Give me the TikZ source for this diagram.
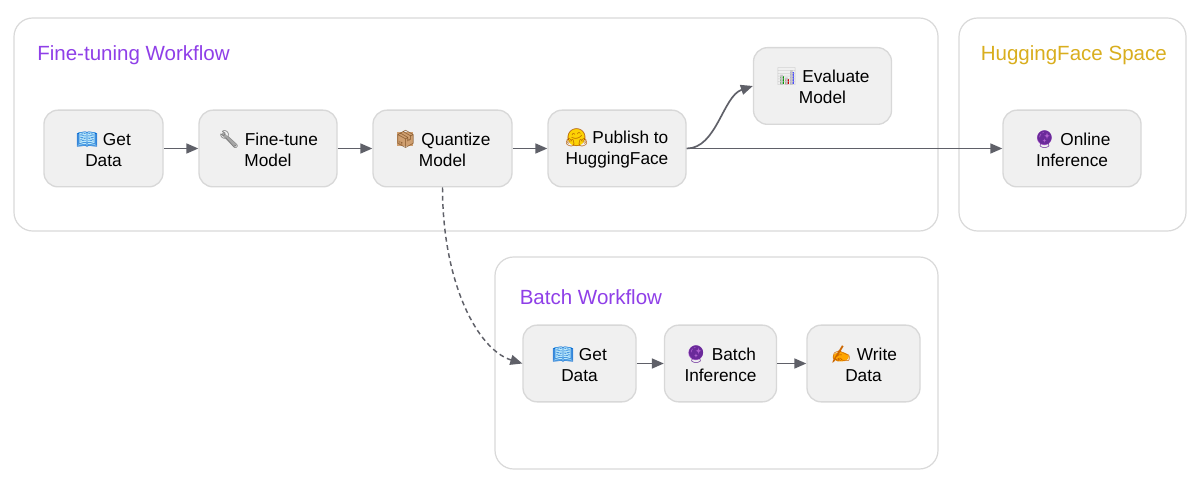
\documentclass[tikz,border=0pt]{standalone}
\usepackage{fontspec}
\setmainfont{Liberation Sans}
\newfontfamily\emofont{Noto Emoji}
\usetikzlibrary{arrows.meta}
\definecolor{boxfill}{HTML}{F0F0F0}
\definecolor{boxline}{HTML}{D8D8D8}
\definecolor{groupline}{HTML}{D9D9D9}
\definecolor{edgecol}{HTML}{5F6068}
\definecolor{purpletitle}{HTML}{8F3FE8}
\definecolor{goldtitle}{HTML}{D9AE1E}
\definecolor{ballglyph}{HTML}{6A2A9A}
\definecolor{ballfill}{HTML}{B060D0}
% #1 glyph colour, #2 glyph, #3 coloured underlay drawn beneath the glyph
\newcommand{\emj}[3]{\rule{0pt}{10.9pt}\smash{\tikz[overlay,x=1pt,y=1pt,sharp corners]{#3}{\color{#1}\emofont\fontsize{13pt}{14pt}\selectfont #2}}}
\tikzset{
  flowbox/.style={draw=boxline,fill=boxfill,line width=1pt,rounded corners=10.5pt,
    minimum height=57.5pt,inner sep=0pt,align=center,text=black,
    font=\fontsize{12.95pt}{15.8pt}\selectfont},
  groupbox/.style={draw=groupline,fill=white,line width=0.9pt,rounded corners=14pt,inner sep=0pt},
  grouptitle/.style={anchor=base west,inner sep=0pt,font=\fontsize{15.4pt}{18pt}\selectfont},
  flow/.style={draw=edgecol,line width=1.25pt,-{Triangle[length=9pt,width=7.5pt]}},
  dashflow/.style={flow,line width=1.1pt,dash pattern=on 3.6pt off 2.6pt}
}
\newcommand{\bookicon}{\emj{black!30!blue!60!cyan}{📖}{\fill[cyan!25] (1,-1) rectangle (15,10);}}
\newcommand{\wrenchicon}{\emj{gray!90!black}{🔧}{\draw[gray!70,line width=2.5pt] (3,9) -- (13,-1);}}
\newcommand{\boxicon}{\emj{brown!70!black}{📦}{\fill[brown!75] (2,-1) rectangle (14,10);}}
\newcommand{\hugicon}{\emj{orange!70!black}{🤗}{\fill[yellow!70!orange] (8,4.5) circle (6.5);}}
\newcommand{\charticon}{\emj{gray!45}{📊}{\fill[green!60!black] (3,-1) rectangle (6,5);\fill[red!80!black] (7,-1) rectangle (10,3);\fill[blue!70] (11,-1) rectangle (14,8);}}
\newcommand{\ballicon}{\emj{ballglyph}{🔮}{\fill[ballfill] (8,5.5) circle (5.5);}}
\newcommand{\writeicon}{\emj{orange!80!black}{✍}{\fill[orange!70!yellow] (8,2.5) ellipse (6 and 3.5);}}
\begin{document}
\begin{tikzpicture}[x=0.75pt,y=-0.75pt]
\useasboundingbox (0,0) rectangle (1202,491);
\fill[white] (0,0) rectangle (1202,491);
% groups
\node[groupbox,minimum width=693pt,minimum height=159.75pt] (gfine) at (476,124.5) {};
\node[groupbox,minimum width=170.25pt,minimum height=159.75pt] (gspace) at (1072.5,124.5) {};
\node[groupbox,minimum width=332.25pt,minimum height=159pt] (gbatch) at (716.5,363) {};
\node[grouptitle,text=purpletitle] (tfine) at (37,61) {Fine-tuning Workflow};
\node[grouptitle,text=goldtitle] (tspace) at (980.5,61) {HuggingFace Space};
\node[grouptitle,text=purpletitle] (tbatch) at (519.5,305) {Batch Workflow};
% nodes
\node[flowbox,minimum width=89.25pt] (get) at (103.5,148.5) {\bookicon{} Get\\Data};
\node[flowbox,minimum width=103.5pt] (tune) at (268,148.5) {\wrenchicon{} Fine-tune\\Model};
\node[flowbox,minimum width=104.25pt] (quant) at (442.5,148.5) {\boxicon{} Quantize\\Model};
\node[flowbox,minimum width=103.5pt] (pub) at (617,148.5) {\hugicon{} Publish to\\HuggingFace};
\node[flowbox,minimum width=103.5pt] (eval) at (822.5,86) {\charticon{} Evaluate\\Model};
\node[flowbox,minimum width=103.5pt] (online) at (1072,148.5) {\ballicon{} Online\\Inference};
\node[flowbox,minimum width=84.75pt] (bget) at (579.5,363.5) {\bookicon{} Get\\Data};
\node[flowbox,minimum width=84pt] (binf) at (720.5,363.5) {\ballicon{} Batch\\Inference};
\node[flowbox,minimum width=84.75pt] (bwrite) at (863.5,363.5) {\writeicon{} Write\\Data};
% connectors
\draw[flow] (get.east) -- (tune.west);
\draw[flow] (tune.east) -- (quant.west);
\draw[flow] (quant.east) -- (pub.west);
\draw[flow] (pub.east) -- (online.west);
\draw[flow] (pub.east) .. controls +(30,0) and +(-30,10) .. (eval.west);
\draw[flow] (binf.east) -- (bwrite.west);
\draw[flow] (bget.east) -- (binf.west);
\draw[dashflow] (quant.south) .. controls +(0,95) and +(-45,-14) .. (bget.west);
\end{tikzpicture}
\end{document}
